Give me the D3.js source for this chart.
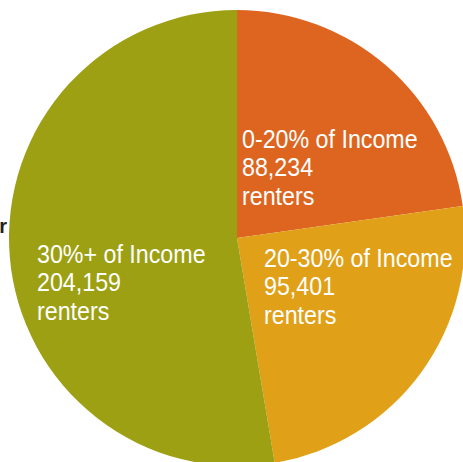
<!DOCTYPE html>
<html><head><meta charset="utf-8">
<script src="https://cdn.jsdelivr.net/npm/d3@7"></script>
<style>html,body{margin:0;padding:0;background:#fff;overflow:hidden}</style>
</head><body>
<svg id="c" width="463" height="462"></svg>
<script>
const categories = ["0-20% of Income", "20-30% of Income", "30%+ of Income"];
const values = [88234, 95401, 204159];
const colors = ["#DD6520", "#E0A017", "#9CA012"];

const svg = d3.select("#c");
const cx = 237, cy = 238, R = 228;
const g = svg.append("g").attr("transform", `translate(${cx},${cy})`);

const pie = d3.pie().sort(null).value(d => d.v);
const arcs = pie(values.map((v, i) => ({v, i})));
const arc = d3.arc().innerRadius(0).outerRadius(R);

g.selectAll("path").data(arcs).enter().append("path")
  .attr("d", arc).attr("fill", d => colors[d.data.i]);

// label anchor offsets (relative to centre)
const labelPos = [[5, -90], [27, 29], [-200, 25]];
const fmt = d3.format(",");
arcs.forEach((a, i) => {
  const t = g.append("text")
    .attr("transform", `translate(${labelPos[i][0]},${labelPos[i][1]}) scale(0.93,1)`)
    .attr("fill", "#fff")
    .style("font-family", "'Liberation Sans', Arial, sans-serif")
    .style("font-size", "25px");
  const lines = [categories[i], fmt(values[i]), "renters"];
  lines.forEach((l, j) => t.append("tspan").attr("x", 0).attr("dy", j === 0 ? 0 : 28.5).text(l));
});

svg.append("text").attr("x", 7).attr("y", 233).attr("text-anchor", "end")
  .style("font-family", "'Liberation Sans', Arial, sans-serif").style("font-weight", "bold")
  .style("font-size", "20px").attr("fill", "#222").text("r");
</script>
</body></html>
